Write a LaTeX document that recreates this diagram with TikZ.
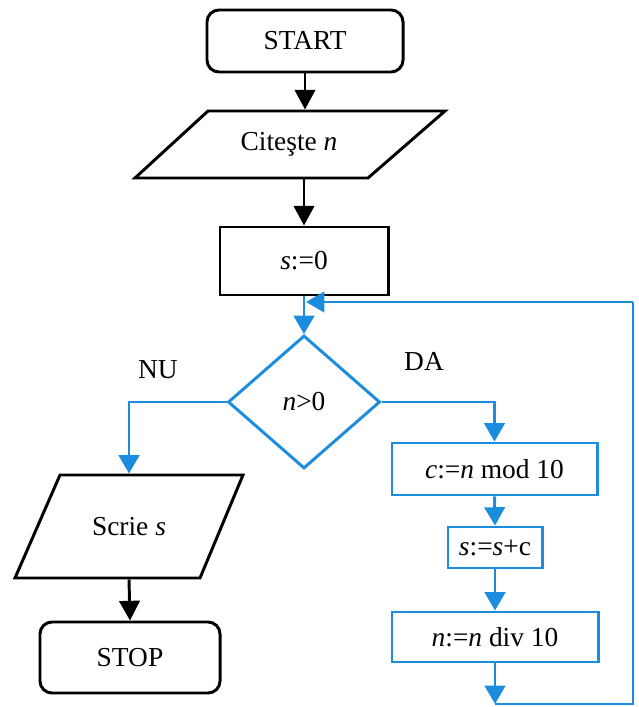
\documentclass[tikz,border=0pt]{standalone}
\usepackage{fontspec}
\setmainfont{Liberation Serif}
\usetikzlibrary{arrows.meta,shapes.geometric}
\definecolor{flowblue}{RGB}{28,140,222}
\begin{document}
\begin{tikzpicture}[x=0.025cm,y=-0.025cm,
  font=\fontsize{19.5}{22}\selectfont,
  line width=2.1pt,
  blk/.style={draw=black, line width=2.1pt},
  blu/.style={draw=flowblue, line width=2.1pt},
  term/.style={blk, rounded corners=0.3cm, inner sep=0pt},
  procbox/.style={blk, inner sep=0pt},
  bproc/.style={blu, inner sep=0pt},
  iolabel/.style={inner sep=0pt},
  barrow/.style={black, -{Triangle[length=14pt,width=14.5pt]}},
  blarrow/.style={flowblue, -{Triangle[length=13pt,width=14.5pt]}},
  bline/.style={flowblue, line join=miter},
  lbl/.style={inner sep=0pt}]
\useasboundingbox (0,0) rectangle (638,707);
% nodes
\node[term, minimum width=4.9cm, minimum height=1.55cm] (start) at (305,41) {START};
\draw[blk, line join=miter] (208,111) -- (445,111) -- (368,178) -- (135,178) -- cycle;
\node[iolabel, minimum height=1.675cm] (cit) at (289,144.5) {Citeşte \textit{n}};
\node[procbox, minimum width=4.2cm, minimum height=1.7cm] (s0) at (304,261) {\textit{s}:=0};
\node[diamond, blu, inner sep=0pt, minimum width=3.8cm, minimum height=3.325cm] (dec) at (304,402) {\textit{n}>0};
\node[lbl] (nu) at (158,370) {NU};
\node[lbl] (da) at (424,361) {DA};
\node[bproc, minimum width=5.125cm, minimum height=1.3cm] (cbox) at (494.5,469) {\textit{c}:=\textit{n} mod 10};
\node[bproc, minimum width=2.35cm, minimum height=1.025cm] (sbox) at (495,547.5) {\textit{s}:=\textit{s}+c};
\node[bproc, minimum width=5.15cm, minimum height=1.25cm] (nbox) at (495,637) {\textit{n}:=\textit{n} div 10};
\draw[blk, line join=miter] (60,475) -- (243,475) -- (200,578) -- (15,578) -- cycle;
\node[iolabel, minimum height=2.575cm] (scrie) at (129,526.5) {Scrie \textit{s}};
\node[term, minimum width=4.5cm, minimum height=1.775cm] (stop) at (130,657.5) {STOP};
% loop coordinates
\coordinate (b1) at (495,704);
\coordinate (b2) at (633,704);
\coordinate (b3) at (633,302);
\coordinate (j) at (306,302);
% connectors
\draw[barrow] (start.south) -- (start.south |- cit.north);
\draw[barrow] (s0.north |- cit.south) -- (s0.north);
\draw[blarrow] (s0.south) -- (dec.north);
\draw[blarrow] (dec.west) -| (scrie.north);
\draw[blarrow] (dec.east) -| (cbox.north);
\draw[blarrow] (cbox.south) -- (sbox.north);
\draw[blarrow] (sbox.south) -- (nbox.north);
\draw[blarrow] (nbox.south) -- (b1);
\draw[bline] (b1) -- (b2) -- (b3);
\draw[blarrow] (b3) -- (j);
\draw[barrow] (scrie.south) -- (stop.north);
\end{tikzpicture}
\end{document}
